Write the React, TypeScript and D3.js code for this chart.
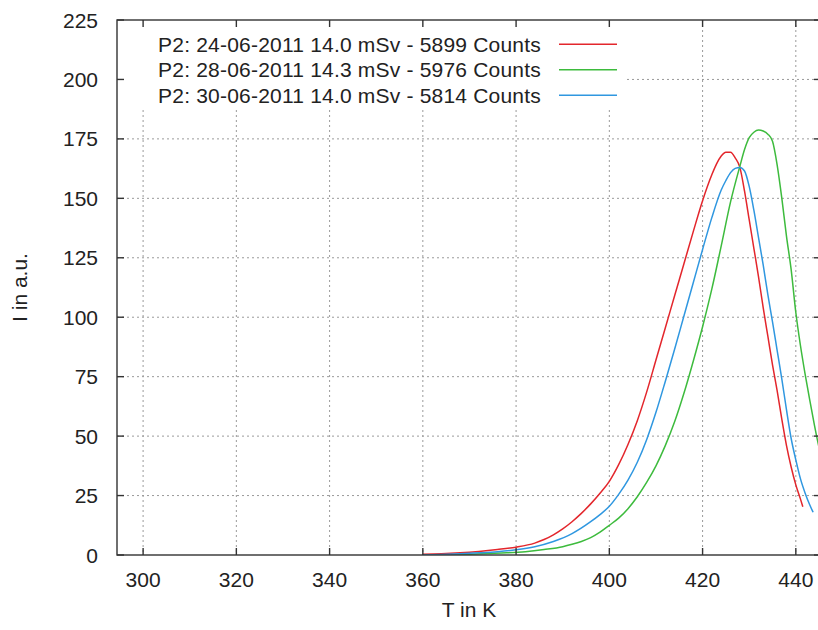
import React from 'react';
import * as d3 from 'd3';

// data (T in K, I in a.u.)
const redT = [360, 364, 368, 372, 376, 380, 384, 386, 388, 390, 392, 394, 396, 398, 400, 402, 404, 406, 408, 410, 412, 414, 416, 418, 420, 422, 423, 424, 425, 426, 427, 428, 429, 430, 431, 432, 433, 434, 435, 436, 437, 438, 439, 440, 441, 441.5];
const redI = [0.3, 0.5, 0.9, 1.5, 2.3, 3.3, 5, 6.5, 8.5, 11, 14, 17.5, 21.5, 26, 31, 38, 46.5, 56.5, 68.5, 82, 95.5, 109, 122.5, 136, 149, 160, 164.5, 167.8, 169.4, 169.4, 167, 163, 153, 141, 129, 117, 104, 92, 80, 69, 57, 46, 37, 29.5, 23.5, 20.3];

const greenT = [366, 370, 374, 378, 382, 386, 390, 392, 394, 396, 398, 400, 402, 404, 406, 408, 410, 412, 414, 416, 418, 420, 422, 424, 426, 428, 429, 430, 431, 432, 433, 434, 435, 436, 437, 438, 439, 440, 441, 442, 443, 444, 445, 446];
const greenI = [0, 0.3, 0.6, 0.9, 1.4, 2.3, 3.5, 4.5, 5.7, 7.3, 9.6, 12.5, 15.5, 19.5, 24.5, 30.5, 37.5, 46, 56, 68, 81.5, 96, 112, 130, 148.5, 163.5, 170.5, 175.5, 177.8, 178.7, 178.3, 177, 174, 164, 150, 134, 120, 102, 88, 76, 65, 54.5, 45, 37];

const blueT = [360, 364, 368, 372, 376, 380, 384, 388, 392, 396, 398, 400, 402, 404, 406, 408, 410, 412, 414, 416, 418, 420, 422, 424, 425, 426, 427, 428, 429, 430, 431, 432, 433, 434, 435, 436, 437, 438, 439, 440, 441, 442, 443, 443.7];
const blueI = [0, 0.2, 0.5, 0.9, 1.4, 2.2, 3.5, 5.7, 9, 14, 17, 20.5, 25.5, 31.5, 39, 48.5, 60, 73, 86.5, 100.5, 114.5, 128.5, 142, 153.5, 157.5, 160.8, 162.6, 163, 161.5, 155, 145, 133.5, 122, 109.5, 98, 86, 74, 61, 49, 40, 32, 26, 21, 18];

const seriesNames = [
  'P2: 24-06-2011 14.0 mSv - 5899 Counts',
  'P2: 28-06-2011 14.3 mSv - 5976 Counts',
  'P2: 30-06-2011 14.0 mSv - 5814 Counts',
];
const seriesColors = ['#e3262c', '#3dbb3d', '#2f97e0'];

const xTicks = [300, 320, 340, 360, 380, 400, 420, 440];
const yTicks = [0, 25, 50, 75, 100, 125, 150, 175, 200, 225];

const W = 818;
const H = 630;
const plot = { left: 117, right: 821, top: 20, bottom: 555 };
const font = '"Liberation Sans", Arial, sans-serif';

export default function App() {
  const x = d3.scaleLinear().domain([294.4, 445.4]).range([plot.left, plot.right]);
  const y = d3.scaleLinear().domain([0, 225]).range([plot.bottom, plot.top]);

  const line = d3.line<[number, number]>()
    .x(d => x(d[0]))
    .y(d => y(d[1]))
    .curve(d3.curveMonotoneX);

  const series = [
    d3.zip(redT, redI) as [number, number][],
    d3.zip(greenT, greenI) as [number, number][],
    d3.zip(blueT, blueI) as [number, number][],
  ];

  const tickLen = 7;
  const keyRow = 25.5;

  return (
    <svg width={W} height={H} style={{ position: 'absolute', left: 0, top: 0, background: '#fff' }} fontFamily={font}>
      <defs>
        <clipPath id="plotClip">
          <rect x={plot.left} y={plot.top} width={plot.right - plot.left} height={plot.bottom - plot.top} />
        </clipPath>
      </defs>

      {/* grid */}
      <g stroke="#9a9a9a" strokeWidth={1} strokeDasharray="2,3">
        {xTicks.map(t => (
          <line key={'gx' + t} x1={x(t)} x2={x(t)} y1={plot.top} y2={plot.bottom} />
        ))}
        {yTicks.filter(t => t > 0 && t < 225).map(t => (
          <line key={'gy' + t} x1={plot.left} x2={plot.right} y1={y(t)} y2={y(t)} />
        ))}
      </g>

      {/* opaque key box */}
      <rect x={plot.left + 1} y={plot.top + 1} width={509} height={87} fill="#fff" />

      {/* curves */}
      <g clipPath="url(#plotClip)" fill="none" strokeWidth={1.5}>
        {series.map((s, i) => (
          <path key={'s' + i} d={line(s) || ''} stroke={seriesColors[i]} />
        ))}
      </g>

      {/* key */}
      {seriesNames.map((n, i) => (
        <g key={'k' + i}>
          <text x={541} y={44.3 + i * keyRow + 7.5} textAnchor="end" fontSize={21} letterSpacing={0.2} fill="#222">{n}</text>
          <line x1={559} x2={617} y1={44.3 + i * keyRow} y2={44.3 + i * keyRow} stroke={seriesColors[i]} strokeWidth={1.5} />
        </g>
      ))}

      {/* border and ticks */}
      <rect x={plot.left} y={plot.top} width={plot.right - plot.left} height={plot.bottom - plot.top} fill="none" stroke="#333" strokeWidth={1.4} />
      <g stroke="#333" strokeWidth={1.4}>
        {xTicks.map(t => (
          <g key={'tx' + t}>
            <line x1={x(t)} x2={x(t)} y1={plot.bottom} y2={plot.bottom - tickLen} />
            <line x1={x(t)} x2={x(t)} y1={plot.top} y2={plot.top + tickLen} />
          </g>
        ))}
        {yTicks.map(t => (
          <g key={'ty' + t}>
            <line x1={plot.left} x2={plot.left + tickLen} y1={y(t)} y2={y(t)} />
            <line x1={plot.right} x2={plot.right - tickLen} y1={y(t)} y2={y(t)} />
          </g>
        ))}
      </g>

      {/* tick labels */}
      {xTicks.map(t => (
        <text key={'lx' + t} x={x(t)} y={587} textAnchor="middle" fontSize={21} fill="#222">{t}</text>
      ))}
      {yTicks.map(t => (
        <text key={'ly' + t} x={98} y={y(t) + 7.5} textAnchor="end" fontSize={21} fill="#222">{t}</text>
      ))}

      {/* axis titles */}
      <text x={(plot.left + plot.right) / 2} y={617} textAnchor="middle" fontSize={21} fill="#222">T in K</text>
      <text transform={`translate(27,${(plot.top + plot.bottom) / 2}) rotate(-90)`} textAnchor="middle" fontSize={21} fill="#222">I in a.u.</text>
    </svg>
  );
}
